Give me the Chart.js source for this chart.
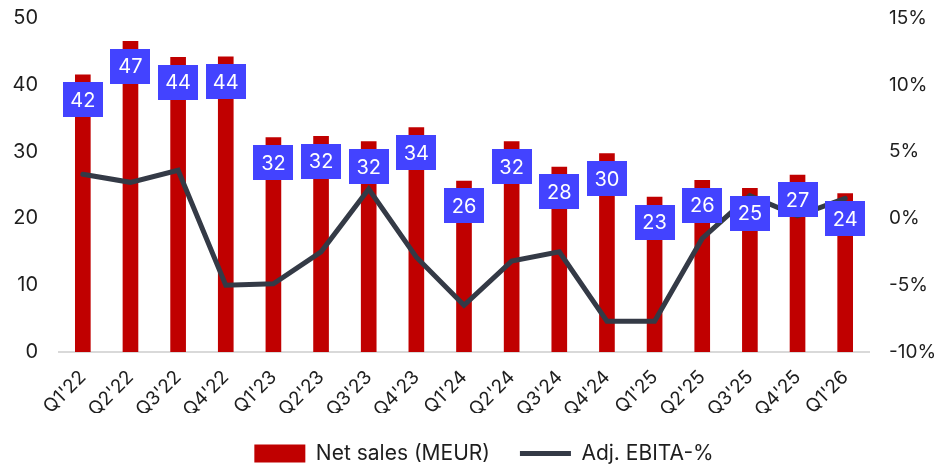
<!DOCTYPE html>
<html>
<head>
<meta charset="utf-8">
<script src="https://cdn.jsdelivr.net/npm/chart.js@4"></script>
<style>
  html, body { margin: 0; padding: 0; background: #fff; }
  #wrap { width: 942px; height: 465px; }
</style>
</head>
<body>
<div id="wrap"><canvas id="chart" width="942" height="465"></canvas></div>
<script>
// quarterly data
const quarters = ["Q1'22", "Q2'22", "Q3'22", "Q4'22", "Q1'23", "Q2'23", "Q3'23", "Q4'23",
  "Q1'24", "Q2'24", "Q3'24", "Q4'24", "Q1'25", "Q2'25", "Q3'25", "Q4'25", "Q1'26"];
const netSales = [41.5, 46.5, 44.1, 44.2, 32.1, 32.3, 31.5, 33.6,
  25.6, 31.5, 27.7, 29.7, 23.2, 25.7, 24.5, 26.5, 23.7];
const ebitaPct = [3.3, 2.7, 3.6, -5.0, -4.9, -2.5, 2.2, -2.9,
  -6.5, -3.2, -2.5, -7.7, -7.7, -1.5, 1.7, 0.2, 1.5];
const salesTicks = [0, 10, 20, 30, 40, 50];
const pctTicks = [-10, -5, 0, 5, 10, 15];

const FONT = 'Inter, "Liberation Sans", sans-serif';
const TEXT = '#1e1e1e';

// blue value tags sitting just under the top of each bar
const valueTags = {
  id: 'valueTags',
  afterDatasetsDraw(chart) {
    const meta = chart.getDatasetMeta(0);
    const ctx = chart.ctx;
    const w = 40, h = 35;
    ctx.save();
    ctx.font = '20px ' + FONT;
    ctx.textAlign = 'center';
    ctx.textBaseline = 'middle';
    meta.data.forEach((bar, i) => {
      const cy = bar.y + 25;
      ctx.fillStyle = '#4343FF';
      ctx.fillRect(Math.round(bar.x - w / 2), Math.round(cy - h / 2), w, h);
      ctx.fillStyle = '#ffffff';
      ctx.fillText(String(Math.round(netSales[i])), bar.x, cy + 1);
    });
    ctx.restore();
  }
};

// nudge the legend a bit right so it sits under the plot
const legendNudge = {
  id: 'legendNudge',
  afterLayout(chart) {
    chart.legend.left += 26;
    chart.legend.right += 0;
  }
};

// fixed widths for the value axes, no extra top/bottom padding
function fixAxis(width) {
  return scale => {
    scale.width = width;
    scale.paddingTop = 0;
    scale.paddingBottom = 0;
  };
}

new Chart(document.getElementById('chart'), {
  type: 'bar',
  data: {
    labels: quarters,
    datasets: [
      {
        type: 'bar',
        label: 'Net sales (MEUR)',
        data: netSales,
        backgroundColor: '#C00000',
        barThickness: 15,
        yAxisID: 'y',
        pointStyle: 'rect',
        order: 2
      },
      {
        type: 'line',
        label: 'Adj. EBITA-%',
        data: ebitaPct,
        borderColor: '#343A46',
        backgroundColor: '#343A46',
        borderWidth: 5,
        borderCapStyle: 'round',
        borderJoinStyle: 'miter',
        pointRadius: 0,
        tension: 0,
        yAxisID: 'y1',
        pointStyle: 'line',
        order: 1
      }
    ]
  },
  options: {
    responsive: false,
    animation: false,
    layout: { padding: { top: 18, bottom: -9 } },
    plugins: {
      tooltip: { enabled: false },
      legend: {
        position: 'bottom',
        labels: {
          usePointStyle: true,
          pointStyleWidth: 51,
          boxHeight: 18,
          padding: 30,
          color: TEXT,
          font: { family: FONT, size: 21 },
          sort: (a, b) => a.datasetIndex - b.datasetIndex
        }
      }
    },
    scales: {
      x: {
        grid: { display: false, drawTicks: false },
        border: { display: true, color: '#d9d9d9', width: 2 },
        ticks: {
          color: TEXT,
          font: { family: FONT, size: 19 },
          maxRotation: 45,
          minRotation: 45,
          padding: 14
        },
        afterFit(scale) { scale.height = 61; }
      },
      y: {
        position: 'left',
        min: 0,
        max: 50,
        grid: { display: false, drawTicks: false },
        border: { display: false },
        afterBuildTicks(scale) { scale.ticks = salesTicks.map(v => ({ value: v })); },
        ticks: {
          color: TEXT,
          font: { family: FONT, size: 20 },
          padding: 21
        },
        afterFit: fixAxis(59)
      },
      y1: {
        position: 'right',
        min: -10,
        max: 15,
        grid: { display: false, drawTicks: false },
        border: { display: false },
        afterBuildTicks(scale) { scale.ticks = pctTicks.map(v => ({ value: v })); },
        ticks: {
          color: TEXT,
          font: { family: FONT, size: 19 },
          padding: 20,
          callback: v => v + '%'
        },
        afterFit: fixAxis(73)
      }
    }
  },
  plugins: [valueTags, legendNudge]
});
</script>
</body>
</html>
